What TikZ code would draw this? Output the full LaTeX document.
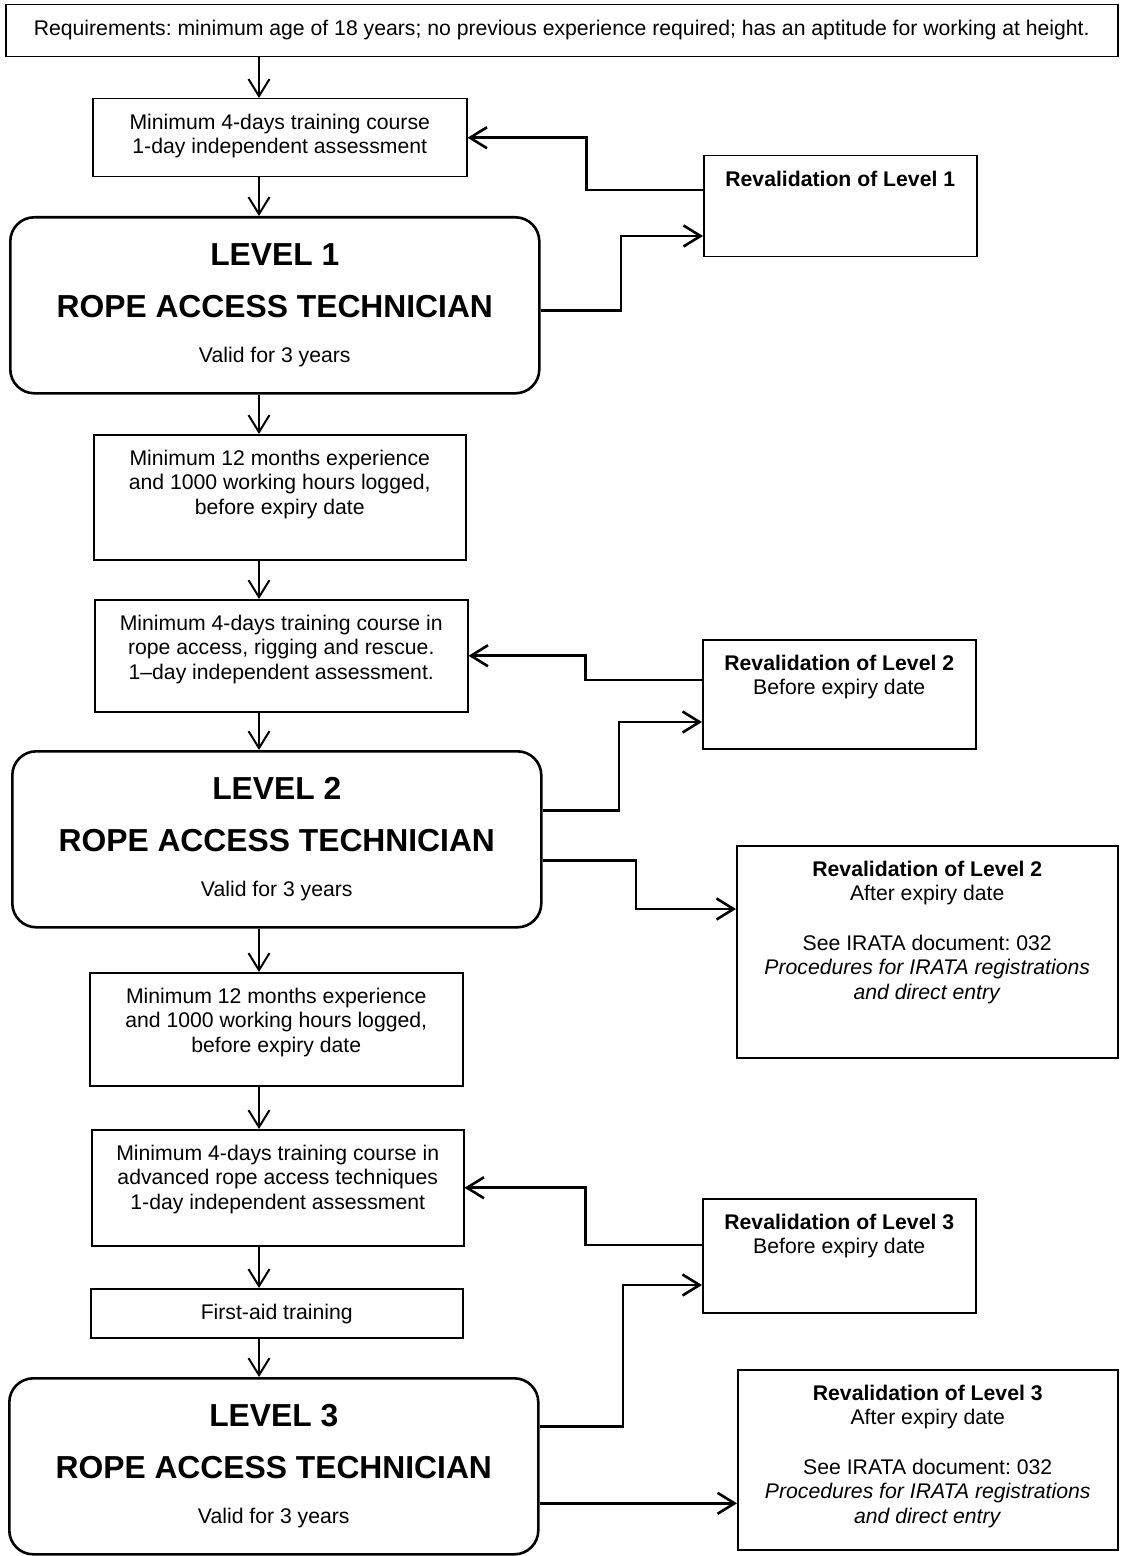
\documentclass[tikz,border=0pt]{standalone}
\usepackage{fontspec}
\setmainfont{Liberation Sans}
\usetikzlibrary{arrows.meta}
\frenchspacing

\begin{document}
\begin{tikzpicture}[x=0.5pt,y=-0.5pt,
box/.style={draw,line width=0.75pt,anchor=north west,inner sep=0pt,align=flush center,text height=15.3pt,font=\fontsize{10.6}{12.3}\selectfont},
level/.style={draw,line width=1.3pt,rounded corners=12pt,anchor=north west,inner sep=0pt,align=flush center,text width=264.5pt,text height=24.2pt,text depth=63.8pt,font=\fontsize{15.9}{26}\selectfont\bfseries},
down/.style={-{Straight Barb[length=8.5pt,width=10.5pt]},line width=1pt},
side/.style={-{Straight Barb[length=8.5pt,width=10.5pt]},line width=1.3pt}]
\useasboundingbox (0,0) rectangle (1126,1556);
\coordinate (spine) at (259,0);
\node[box,text width=556pt,text depth=10.7pt]at (5,4) (req) {Requirements: minimum age of 18 years; no previous experience required; has an aptitude for working at height.};
\node[box,text width=187pt,text depth=23.7pt]at (92,98) (train1) {Minimum 4-days training course\\1-day independent assessment};
\node[level]at (9,216) (l1) {LEVEL 1\\ROPE ACCESS TECHNICIAN\\[-3.4pt]{\normalfont\fontsize{10.6}{12.3}\selectfont Valid for 3 years}};
\node[box,text width=136.5pt,text depth=35.2pt]at (703,155) (rev1) {\textbf{Revalidation of Level 1}};
\node[box,text width=186pt,text depth=47.2pt]at (93,434) (exp1) {Minimum 12 months experience\\and 1000 working hours logged,\\before expiry date};
\node[box,text width=186.5pt,text depth=40.7pt]at (94,599) (train2) {Minimum 4-days training course in\\rope access, rigging and rescue.\\1--day independent assessment.};
\node[box,text width=136.5pt,text depth=39.2pt]at (702,639) (rev2a) {\textbf{Revalidation of Level 2}\\Before expiry date};
\node[level]at (11,750) (l2) {LEVEL 2\\ROPE ACCESS TECHNICIAN\\[-3.4pt]{\normalfont\fontsize{10.6}{12.3}\selectfont Valid for 3 years}};
\node[box,text width=190.5pt,text depth=90.7pt]at (736,845) (rev2b) {\textbf{Revalidation of Level 2}\\After expiry date\\[12.3pt]See IRATA document: 032\\\textit{Procedures for IRATA registrations}\\\textit{and direct entry}};
\node[box,text width=186.5pt,text depth=41.2pt]at (89,972) (exp2) {Minimum 12 months experience\\and 1000 working hours logged,\\before expiry date};
\node[box,text width=186pt,text depth=42.7pt]at (91,1129) (train3) {Minimum 4-days training course in\\advanced rope access techniques\\1-day independent assessment};
\node[box,text width=136.5pt,text depth=41.7pt]at (702,1198) (rev3a) {\textbf{Revalidation of Level 3}\\Before expiry date};
\node[box,text width=186pt,text depth=9.2pt]at (90,1288) (fa) {First-aid training};
\node[level]at (8,1377) (l3) {LEVEL 3\\ROPE ACCESS TECHNICIAN\\[-3.4pt]{\normalfont\fontsize{10.6}{12.3}\selectfont Valid for 3 years}};
\node[box,text width=190pt,text depth=74.7pt]at (737,1369) (rev3b) {\textbf{Revalidation of Level 3}\\After expiry date\\[12.3pt]See IRATA document: 032\\\textit{Procedures for IRATA registrations}\\\textit{and direct entry}};
\path[down]
(req.south -| spine) edge (train1.north -| spine)
(train1.south -| spine) edge (l1.north -| spine)
(l1.south -| spine) edge (exp1.north -| spine)
(exp1.south -| spine) edge (train2.north -| spine)
(train2.south -| spine) edge (l2.north -| spine)
(l2.south -| spine) edge (exp2.north -| spine)
(exp2.south -| spine) edge (train3.north -| spine)
(train3.south -| spine) edge (fa.north -| spine)
(fa.south -| spine) edge (l3.north -| spine)
;
\draw[side] ([yshift=-17.5pt]rev1.north west) -| ([xshift=59.5pt]train1.east) -- (train1.east);
\draw[side] ([yshift=-2.5pt]l1.east) -| ([xshift=-41pt,yshift=-40.5pt]rev1.north west) -- ([yshift=-40.5pt]rev1.north west);
\draw[side] ([yshift=-20.5pt]rev2a.north west) -| ([xshift=58.5pt]train2.east) -- (train2.east);
\draw[side] ([yshift=14.5pt]l2.east) -| ([xshift=-41.5pt,yshift=-41.5pt]rev2a.north west) -- ([yshift=-41.5pt]rev2a.north west);
\draw[side] ([yshift=-10.5pt]l2.east) -| ([xshift=-50pt,yshift=-32pt]rev2b.north west) -- ([yshift=-32pt]rev2b.north west);
\draw[side] ([yshift=-23.5pt]rev3a.north west) -| ([xshift=60.5pt]train3.east) -- (train3.east);
\draw[side] ([yshift=20pt]l3.east) -| ([xshift=-39.5pt,yshift=-43.5pt]rev3a.north west) -- ([yshift=-43.5pt]rev3a.north west);
\draw[side] ([yshift=-18.5pt]l3.east) -- ([yshift=-18.5pt]l3.east -| rev3b.west);
\end{tikzpicture}
\end{document}
